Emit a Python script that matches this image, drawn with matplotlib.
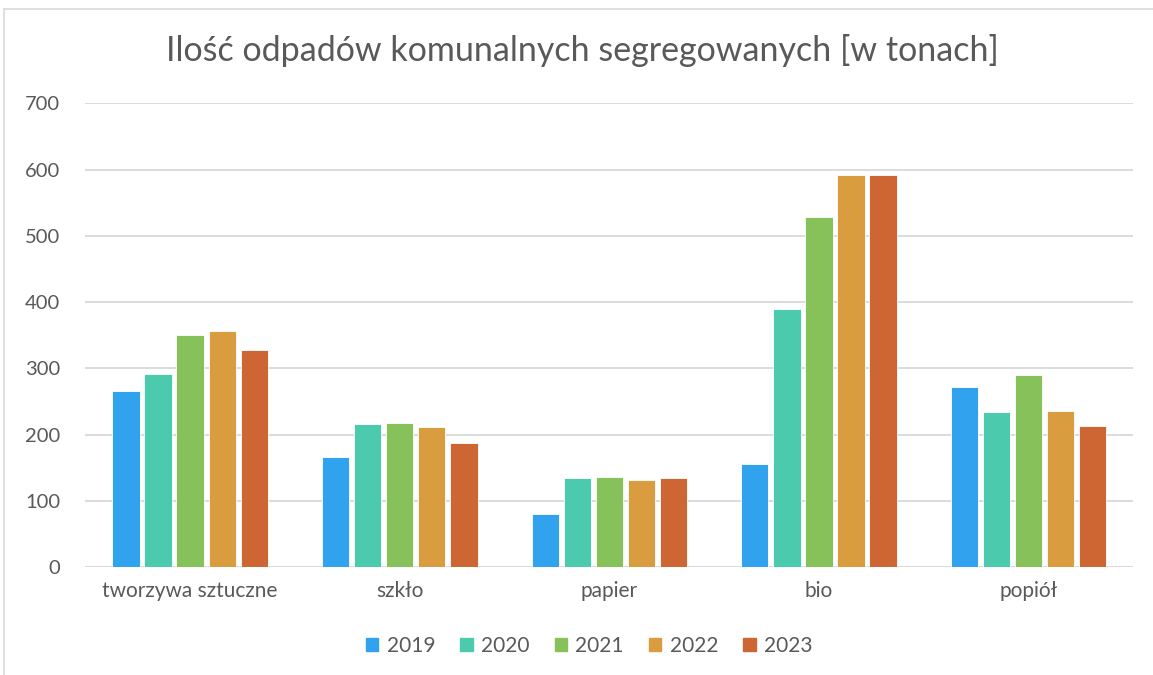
import numpy as np
import matplotlib
matplotlib.use("Agg")
import matplotlib.pyplot as plt
from matplotlib.lines import Line2D

categories = ["tworzywa sztuczne", "szkło", "papier", "bio", "popiół"]
years = ["2019", "2020", "2021", "2022", "2023"]
values = {
    "2019": [265, 166, 80, 155, 271],
    "2020": [291, 216, 134, 389, 234],
    "2021": [350, 217, 136, 528, 290],
    "2022": [356, 211, 131, 591, 236],
    "2023": [327, 187, 135, 592, 213],
}
colors = ["#31A3EE", "#4CCAAE", "#86C15A", "#D99D40", "#CE6634"]
title = "Ilość odpadów komunalnych segregowanych [w tonach]"

plt.rcParams['font.family'] = ['Lato', 'DejaVu Sans']
text_col = "#595959"

fig = plt.figure(figsize=(11.53, 6.75), dpi=100)
ax = fig.add_axes([0.074, 0.16, 0.909, 0.687])

x = np.arange(len(categories))
pitch = 0.153
for i, y in enumerate(years):
    ax.bar(x + (i - 2) * pitch, values[y], width=pitch * 0.85, color=colors[i],
           edgecolor="white", linewidth=0.6, label=y, zorder=3)

ax.set_xlim(-0.5, len(categories) - 0.5)
ax.set_ylim(0, 700)
ax.set_yticks(np.arange(0, 701, 100))
ax.grid(axis="y", color="#D9D9D9", linewidth=1.3, zorder=0)
ax.set_xticks(x)
ax.set_xticklabels(categories)
ax.tick_params(axis="x", length=0, labelsize=15, colors=text_col, pad=10)
ax.tick_params(axis="y", length=0, labelsize=14.5, colors=text_col, pad=18)
for s in ax.spines.values():
    s.set_visible(False)
ax.axhline(0, color="#D9D9D9", linewidth=1.3, zorder=2)

fig.text(0.505, 0.925, title, ha="center", va="center", fontsize=24.5, color=text_col)

handles = [plt.Rectangle((0, 0), 1, 1, color=c) for c in colors]
fig.legend(handles, years, loc="center", bbox_to_anchor=(0.511, 0.043), ncol=5,
           frameon=False, fontsize=15, labelcolor=text_col, handlelength=0.6,
           handleheight=0.6, columnspacing=1.2, handletextpad=0.4)

# outer chart border
fig.add_artist(Line2D([4 / 1153, 4 / 1153], [0, 1 - 9 / 675], color="#D9D9D9", lw=1.2))
fig.add_artist(Line2D([4 / 1153, 1], [1 - 9 / 675, 1 - 9 / 675], color="#D9D9D9", lw=1.2))

fig.savefig("out.png", dpi=100, facecolor="white")
